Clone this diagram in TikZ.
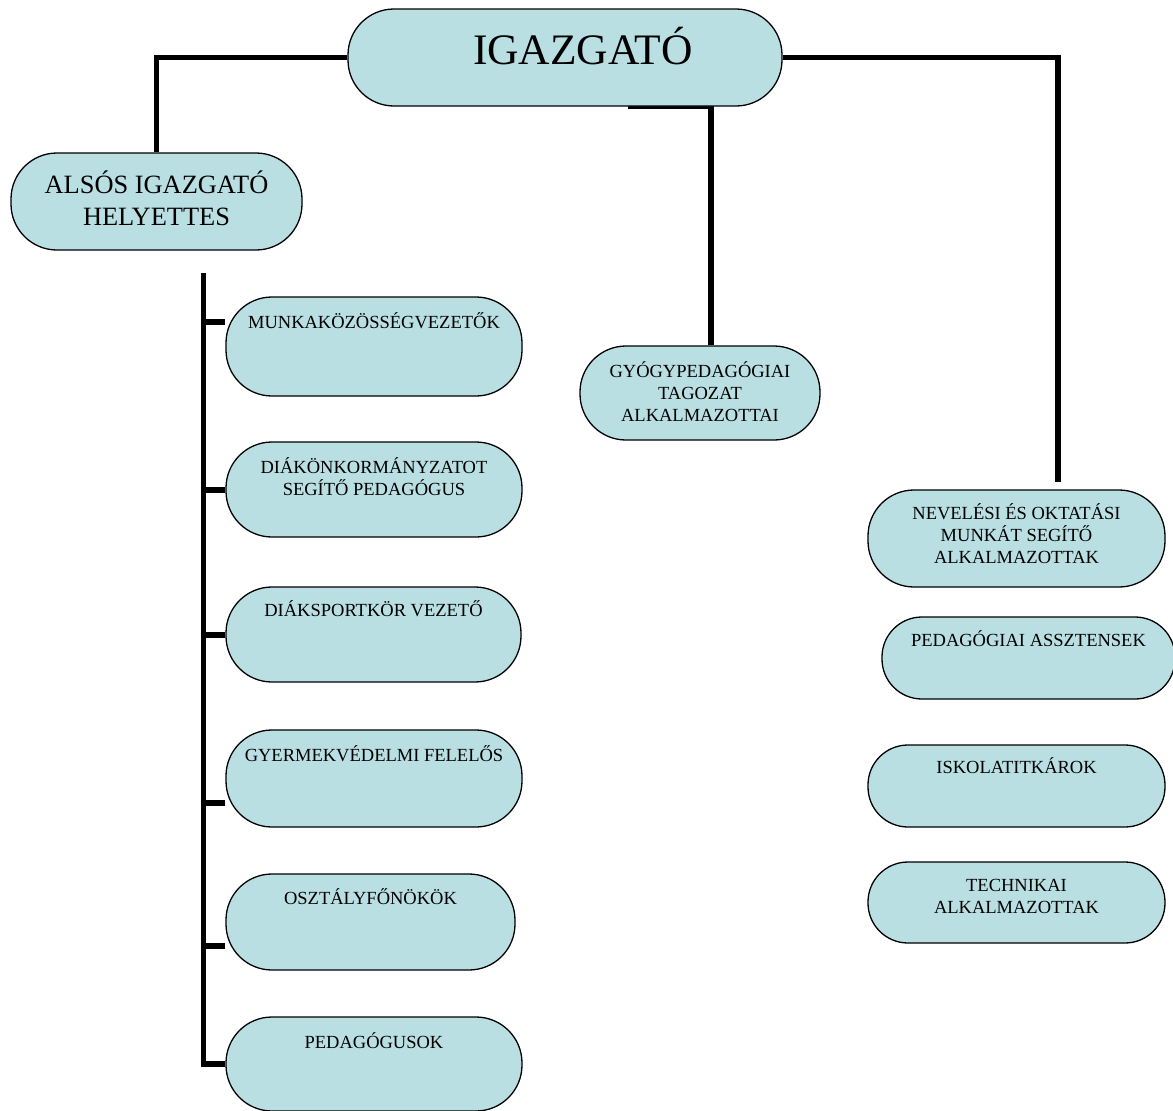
\documentclass[tikz,border=0pt]{standalone}
\usepackage{fontspec}
\setmainfont{Liberation Serif}
\usetikzlibrary{positioning,backgrounds}
\definecolor{boxfill}{RGB}{185,223,227}

\begin{document}
\begin{tikzpicture}[x=1pt, y=-1pt,
  unit/.style={draw, fill=boxfill, line width=1.3pt, rounded corners=40pt, inner sep=0pt},
  tall/.style={rounded corners=46pt},
  lbl/.style={anchor=north, inner sep=0pt, align=center, font=\fontsize{18.5}{22}\selectfont},
  link/.style={line width=5.5pt, line join=miter}]
  \useasboundingbox (0,0) rectangle (1173,1111);

  % Director and deputy
  \node[unit, tall, minimum width=434pt, minimum height=97pt,
        label={[lbl, font=\fontsize{43.5}{50}\selectfont, xshift=18pt, yshift=-19pt]north:IGAZGATÓ}] (boss) at (565,57.5) {};
  \node[unit, tall, minimum width=291pt, minimum height=97pt,
        label={[lbl, font=\fontsize{26.4}{32}\selectfont, yshift=-18pt]north:ALSÓS IGAZGATÓ\\HELYETTES}] (dep) at (156.5,201.5) {};

  % Left column
  \node[unit, tall, minimum width=296pt, minimum height=99pt,
        label={[lbl, yshift=-16pt]north:MUNKAKÖZÖSSÉGVEZETŐK}] (mk) at (374,346.5) {};
  \node[unit, tall, minimum width=296pt, minimum height=95pt,
        label={[lbl, yshift=-16pt]north:DIÁKÖNKORMÁNYZATOT\\SEGÍTŐ PEDAGÓGUS}] (dk) at (374,489.5) {};
  \node[unit, tall, minimum width=295pt, minimum height=95pt,
        label={[lbl, yshift=-14pt]north:DIÁKSPORTKÖR VEZETŐ}] (ds) at (373.5,634.5) {};
  \node[unit, tall, minimum width=296pt, minimum height=97pt,
        label={[lbl, yshift=-16pt]north:GYERMEKVÉDELMI FELELŐS}] (gy) at (374,778.5) {};
  \node[unit, tall, minimum width=289pt, minimum height=96pt,
        label={[lbl, yshift=-15pt]north:OSZTÁLYFŐNÖKÖK}] (of) at (370.5,922) {};
  \node[unit, tall, minimum width=296pt, minimum height=94pt,
        label={[lbl, yshift=-16pt]north:PEDAGÓGUSOK}] (pg) at (374,1064) {};

  % Middle branch
  \node[unit, tall, minimum width=240pt, minimum height=94pt,
        label={[lbl, yshift=-16pt]north:GYÓGYPEDAGÓGIAI\\TAGOZAT\\ALKALMAZOTTAI}] (gyogy) at (700,393) {};

  % Right column
  \node[unit, tall, minimum width=297pt, minimum height=97pt,
        label={[lbl, yshift=-14pt]north:NEVELÉSI ÉS OKTATÁSI\\MUNKÁT SEGÍTŐ\\ALKALMAZOTTAK}] (nev) at (1016.5,538.5) {};
  \node[unit, minimum width=293pt, minimum height=82pt,
        label={[lbl, yshift=-14pt]north:PEDAGÓGIAI ASSZTENSEK}] (ast) at (1028.5,658) {};
  \node[unit, minimum width=297pt, minimum height=82pt,
        label={[lbl, yshift=-13pt]north:ISKOLATITKÁROK}] (isk) at (1016.5,786) {};
  \node[unit, minimum width=297pt, minimum height=81pt,
        label={[lbl, yshift=-18pt]north:TECHNIKAI\\ALKALMAZOTTAK}] (tech) at (1016.5,902.5) {};

  % Connectors
  \begin{pgfonlayer}{background}
    \draw[link] (boss.west) -| (dep.north);
    \draw[link] (boss.east) -| ([xshift=41.5pt,yshift=7pt]nev.north);
    \draw[link] ([xshift=63pt]boss.south) -- ([xshift=146pt]boss.south) -- ([xshift=11pt]gyogy.north);
    \coordinate (spine) at (203.5,273);
    \draw[link] (spine) |- (pg.west);
    \foreach \y/\b in {322/mk, 490/dk, 635/ds, 803/gy, 946/of}
      \draw[link] (spine |- 0,\y) -- (\b.west |- 0,\y);
  \end{pgfonlayer}
\end{tikzpicture}
\end{document}
